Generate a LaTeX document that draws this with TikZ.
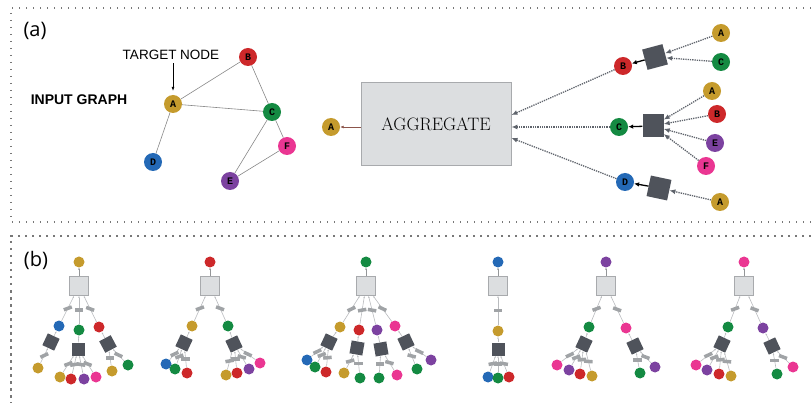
\documentclass[tikz,border=0pt]{standalone}
\usepackage{fontspec}
\usetikzlibrary{shapes, arrows.meta}
\newfontfamily\panelfont{Open Sans}
\newfontfamily\headfont{Liberation Sans}
\newfontfamily\letterfont{Liberation Mono}
\definecolor{nA}{RGB}{197,155,45}
\definecolor{nB}{RGB}{205,40,42}
\definecolor{nC}{RGB}{20,138,66}
\definecolor{nD}{RGB}{36,105,182}
\definecolor{nE}{RGB}{124,66,160}
\definecolor{nF}{RGB}{234,54,146}
\definecolor{aggfill}{RGB}{220,222,224}
\definecolor{aggdraw}{RGB}{168,170,173}
\definecolor{darkbox}{RGB}{79,83,91}
\definecolor{taggray}{RGB}{160,163,166}
\definecolor{edgegray}{RGB}{135,135,135}
\definecolor{dotgray}{RGB}{95,100,108}
\definecolor{treegray}{RGB}{185,187,190}
\definecolor{framegray}{RGB}{120,120,120}
\definecolor{outbrown}{RGB}{140,85,75}
\tikzstyle{gnode} = [circle, minimum size=18pt, inner sep=0pt, font=\letterfont\bfseries\fontsize{10}{10}\selectfont]
\tikzstyle{snode} = [circle, minimum size=11pt, inner sep=0pt]
\tikzstyle{aggbox} = [rectangle, draw=aggdraw, fill=aggfill, line width=0.9pt, minimum width=150pt, minimum height=83pt, font=\fontsize{18}{20}\selectfont]
\tikzstyle{sqbox} = [rectangle, fill=darkbox, minimum size=21pt, inner sep=0pt]
\tikzstyle{minagg} = [rectangle, draw=aggdraw, fill=aggfill, line width=0.7pt, minimum size=19pt, inner sep=0pt]
\tikzstyle{minsq} = [rectangle, fill=darkbox, minimum size=13pt, inner sep=0pt]
\tikzstyle{edgetag} = [rectangle, fill=taggray, minimum width=8.5pt, minimum height=3.5pt, inner sep=0pt]
\tikzstyle{gline} = [draw=edgegray, line width=0.6pt]
\tikzstyle{dline} = [draw=dotgray, densely dotted, line width=1.3pt, -{Latex[length=6pt, width=5pt]}]
\tikzstyle{bline} = [draw=black, line width=1.3pt, -{Latex[length=5pt, width=4.5pt]}]
\tikzstyle{oline} = [draw=outbrown, line width=0.8pt, -{Latex[length=3.5pt, width=3pt]}]
\tikzstyle{tarrow} = [draw=black, line width=0.6pt, -{Latex[length=4pt, width=3pt]}]
\tikzstyle{tline} = [draw=treegray, line width=0.6pt, -{Latex[length=2pt, width=1.6pt]}]
\tikzstyle{rline} = [draw=treegray!80!black, line width=1pt, -{Latex[length=2pt, width=2pt]}]
\tikzstyle{panelframe} = [draw=framegray, line width=1.2pt, dash pattern=on 1.2pt off 5.8pt]

\begin{document}
\begin{tikzpicture}[x=1pt, y=-1pt]
            \useasboundingbox (0,0) rectangle (811,403);
            % Frames
            \path [panelframe] (811,8) -- (11,8) -- (11,222) -- (811,222);
            \path [panelframe, dash pattern=on 2.5pt off 4.5pt] (811,236) -- (11,236) -- (11,403);

            % Draw nodes
            % Input graph
            \node (laba) [font=\panelfont\fontsize{20}{20}\selectfont] at (35,31) {(a)};
            \node (title) [font=\headfont\bfseries\fontsize{14}{14}\selectfont] at (79,100) {INPUT GRAPH};
            \node (tgt) [font=\headfont\fontsize{13.5}{13.5}\selectfont] at (171,55) {TARGET NODE};
            \node (a1) [gnode, fill=nA] at (173,104) {A};
            \node (b1) [gnode, fill=nB] at (248,57) {B};
            \node (c1) [gnode, fill=nC] at (272,112) {C};
            \node (d1) [gnode, fill=nD] at (153,162) {D};
            \node (e1) [gnode, fill=nE] at (230,181) {E};
            \node (f1) [gnode, fill=nF] at (287,146) {F};

            % Aggregation
            \node (agg) [aggbox] at (436,124) {AGGREGATE};
            \node (out) [gnode, fill=nA] at (331,127) {A};
            \node (nb) [gnode, fill=nB] at (623,66) {B};
            \node (nc) [gnode, fill=nC] at (619,127) {C};
            \node (nd) [gnode, fill=nD] at (625,182) {D};
            \node (s1) [sqbox, rotate=15] at (655,57) {};
            \node (s2) [sqbox, minimum height=23pt] at (653,126) {};
            \node (s3) [sqbox, rotate=-12] at (659,188) {};
            \node (i1) [gnode, fill=nA] at (721,33) {A};
            \node (i2) [gnode, fill=nC] at (721,62) {C};
            \node (i3) [gnode, fill=nA] at (712,91) {A};
            \node (i4) [gnode, fill=nB] at (717,114) {B};
            \node (i5) [gnode, fill=nE] at (715,143) {E};
            \node (i6) [gnode, fill=nF] at (706,166) {F};
            \node (i7) [gnode, fill=nA] at (720,202) {A};

            % Draw lines
            % Input graph
            \path [tarrow, shorten >=4pt] (tgt.south -| a1) -- (a1.north);
            \path [gline] (a1) -- (b1);
            \path [gline] (a1) -- (c1);
            \path [gline] (a1) -- (d1);
            \path [gline] (b1) -- (c1);
            \path [gline] (c1) -- (e1);
            \path [gline] (c1) -- (f1);
            \path [gline] (e1) -- (f1);

            % Aggregation
            \path [oline] (agg.west |- out) -- (out);
            \path [dline] (nb) -- ([yshift=9pt]agg.east);
            \path [dline] (nc) -- ([yshift=-3pt]agg.east);
            \path [dline] (nd) -- ([yshift=-14pt]agg.east);
            \path [bline] (s1) -- (nb);
            \path [bline] (s2) -- (nc);
            \path [bline] (s3) -- (nd);
            \path [dline] (i1) -- (s1);
            \path [dline] (i2) -- (s1);
            \path [dline] (i3) -- (s2);
            \path [dline] (i4) -- (s2);
            \path [dline] (i5) -- (s2);
            \path [dline] (i6) -- (s2);
            \path [dline] (i7) -- (s3);

            % Computation graphs
            \node (labb) [font=\panelfont\fontsize{20}{20}\selectfont] at (36,260) {(b)};

            % Tree A
            \node (t1r) [snode, fill=nA] at (79,262) {};
            \node (t1q) [minagg] at (79,286) {};
            \node (t1c1) [snode, fill=nD] at (59,326) {};
            \node (t1c2) [snode, fill=nC] at (79,330) {};
            \node (t1c3) [snode, fill=nB] at (99,327) {};
            \node (t1d1) [minsq, rotate=-25] at (51,342) {};
            \node (t1d2) [minsq] at (78,349) {};
            \node (t1d3) [minsq, rotate=28] at (108,344) {};
            \node (t1l1) [snode, fill=nA] at (38,368) {};
            \node (t1l2) [snode, fill=nA] at (60,377) {};
            \node (t1l3) [snode, fill=nB] at (71,379) {};
            \node (t1l4) [snode, fill=nE] at (84,379) {};
            \node (t1l5) [snode, fill=nF] at (96,377) {};
            \node (t1l6) [snode, fill=nA] at (112,371) {};
            \node (t1l7) [snode, fill=nC] at (128,365) {};
            \path [rline] (t1q) -- (t1r);
            \path [tline] (t1c1) -- node[edgetag, rotate=20] {} (t1q);
            \path [tline] (t1c2) -- node[edgetag] {} (t1q);
            \path [tline] (t1c3) -- node[edgetag, rotate=-20] {} (t1q);
            \path [tline] (t1d1) -- (t1c1);
            \path [tline] (t1d2) -- (t1c2);
            \path [tline] (t1d3) -- (t1c3);
            \path [tline] (t1l1) -- node[edgetag, rotate=25] {} (t1d1);
            \path [tline] (t1l2) -- node[edgetag, rotate=20] {} (t1d2);
            \path [tline] (t1l3) -- node[edgetag, rotate=10] {} (t1d2);
            \path [tline] (t1l4) -- node[edgetag, rotate=-10] {} (t1d2);
            \path [tline] (t1l5) -- node[edgetag, rotate=-20] {} (t1d2);
            \path [tline] (t1l6) -- node[edgetag] {} (t1d3);
            \path [tline] (t1l7) -- node[edgetag, rotate=-25] {} (t1d3);

            % Tree B
            \node (t2r) [snode, fill=nB] at (210,262) {};
            \node (t2q) [minagg] at (210,286) {};
            \node (t2c1) [snode, fill=nA] at (192,326) {};
            \node (t2c2) [snode, fill=nC] at (228,326) {};
            \node (t2d1) [minsq, rotate=-25] at (184,343) {};
            \node (t2d2) [minsq, rotate=25] at (234,344) {};
            \node (t2l1) [snode, fill=nD] at (166,364) {};
            \node (t2l2) [snode, fill=nC] at (175,369) {};
            \node (t2l3) [snode, fill=nB] at (187,373) {};
            \node (t2l4) [snode, fill=nA] at (226,375) {};
            \node (t2l5) [snode, fill=nB] at (237,373) {};
            \node (t2l6) [snode, fill=nE] at (249,369) {};
            \node (t2l7) [snode, fill=nF] at (260,363) {};
            \path [rline] (t2q) -- (t2r);
            \path [tline] (t2c1) -- node[edgetag, rotate=20] {} (t2q);
            \path [tline] (t2c2) -- node[edgetag, rotate=-20] {} (t2q);
            \path [tline] (t2d1) -- (t2c1);
            \path [tline] (t2d2) -- (t2c2);
            \path [tline] (t2l1) -- node[edgetag, rotate=25] {} (t2d1);
            \path [tline] (t2l2) -- node[edgetag, rotate=20] {} (t2d1);
            \path [tline] (t2l3) -- node[edgetag] {} (t2d1);
            \path [tline] (t2l4) -- node[edgetag, rotate=10] {} (t2d2);
            \path [tline] (t2l5) -- node[edgetag] {} (t2d2);
            \path [tline] (t2l6) -- node[edgetag, rotate=-15] {} (t2d2);
            \path [tline] (t2l7) -- node[edgetag, rotate=-25] {} (t2d2);

            % Tree C
            \node (t3r) [snode, fill=nC] at (366,262) {};
            \node (t3q) [minagg] at (366,286) {};
            \node (t3c1) [snode, fill=nA] at (340,327) {};
            \node (t3c2) [snode, fill=nB] at (359,330) {};
            \node (t3c3) [snode, fill=nE] at (377,330) {};
            \node (t3c4) [snode, fill=nF] at (395,326) {};
            \node (t3d1) [minsq, rotate=-25] at (329,342) {};
            \node (t3d2) [minsq, rotate=-10] at (357,348) {};
            \node (t3d3) [minsq, rotate=10] at (381,349) {};
            \node (t3d4) [minsq, rotate=25] at (406,342) {};
            \node (t3l1) [snode, fill=nD] at (307,360) {};
            \node (t3l2) [snode, fill=nC] at (315,367) {};
            \node (t3l3) [snode, fill=nB] at (326,372) {};
            \node (t3l4) [snode, fill=nA] at (344,373) {};
            \node (t3l5) [snode, fill=nC] at (360,378) {};
            \node (t3l6) [snode, fill=nC] at (379,378) {};
            \node (t3l7) [snode, fill=nF] at (397,375) {};
            \node (t3l8) [snode, fill=nC] at (417,369) {};
            \node (t3l9) [snode, fill=nE] at (431,360) {};
            \path [rline] (t3q) -- (t3r);
            \path [tline] (t3c1) -- node[edgetag, rotate=25] {} (t3q);
            \path [tline] (t3c2) -- node[edgetag, rotate=10] {} (t3q);
            \path [tline] (t3c3) -- node[edgetag, rotate=-10] {} (t3q);
            \path [tline] (t3c4) -- node[edgetag, rotate=-25] {} (t3q);
            \path [tline] (t3d1) -- (t3c1);
            \path [tline] (t3d2) -- (t3c2);
            \path [tline] (t3d3) -- (t3c3);
            \path [tline] (t3d4) -- (t3c4);
            \path [tline] (t3l1) -- node[edgetag, rotate=25] {} (t3d1);
            \path [tline] (t3l2) -- node[edgetag, rotate=20] {} (t3d1);
            \path [tline] (t3l3) -- node[edgetag, rotate=5] {} (t3d1);
            \path [tline] (t3l4) -- node[edgetag, rotate=15] {} (t3d2);
            \path [tline] (t3l5) -- node[edgetag] {} (t3d2);
            \path [tline] (t3l6) -- node[edgetag] {} (t3d3);
            \path [tline] (t3l7) -- node[edgetag, rotate=-15] {} (t3d3);
            \path [tline] (t3l8) -- node[edgetag, rotate=-15] {} (t3d4);
            \path [tline] (t3l9) -- node[edgetag, rotate=-25] {} (t3d4);

            % Tree D
            \node (t4r) [snode, fill=nD] at (498,262) {};
            \node (t4q) [minagg] at (498,286) {};
            \node (t4c1) [snode, fill=nA] at (498,331) {};
            \node (t4d1) [minsq] at (498,349) {};
            \node (t4l1) [snode, fill=nD] at (488,377) {};
            \node (t4l2) [snode, fill=nC] at (498,378) {};
            \node (t4l3) [snode, fill=nB] at (509,377) {};
            \path [rline] (t4q) -- (t4r);
            \path [tline] (t4c1) -- node[edgetag] {} (t4q);
            \path [tline] (t4d1) -- (t4c1);
            \path [tline] (t4l1) -- node[edgetag, rotate=10] {} (t4d1);
            \path [tline] (t4l2) -- node[edgetag] {} (t4d1);
            \path [tline] (t4l3) -- node[edgetag, rotate=-10] {} (t4d1);

            % Tree E
            \node (t5r) [snode, fill=nE] at (606,262) {};
            \node (t5q) [minagg] at (606,286) {};
            \node (t5c1) [snode, fill=nC] at (589,327) {};
            \node (t5c2) [snode, fill=nF] at (626,328) {};
            \node (t5d1) [minsq, rotate=-25] at (584,344) {};
            \node (t5d2) [minsq, rotate=25] at (635,346) {};
            \node (t5l1) [snode, fill=nF] at (557,365) {};
            \node (t5l2) [snode, fill=nE] at (569,370) {};
            \node (t5l3) [snode, fill=nB] at (580,374) {};
            \node (t5l4) [snode, fill=nA] at (592,376) {};
            \node (t5l5) [snode, fill=nC] at (640,373) {};
            \node (t5l6) [snode, fill=nE] at (655,367) {};
            \path [rline] (t5q) -- (t5r);
            \path [tline] (t5c1) -- node[edgetag, rotate=20] {} (t5q);
            \path [tline] (t5c2) -- node[edgetag, rotate=-20] {} (t5q);
            \path [tline] (t5d1) -- (t5c1);
            \path [tline] (t5d2) -- (t5c2);
            \path [tline] (t5l1) -- node[edgetag, rotate=25] {} (t5d1);
            \path [tline] (t5l2) -- node[edgetag, rotate=20] {} (t5d1);
            \path [tline] (t5l3) -- node[edgetag, rotate=5] {} (t5d1);
            \path [tline] (t5l4) -- node[edgetag, rotate=-5] {} (t5d1);
            \path [tline] (t5l5) -- node[edgetag] {} (t5d2);
            \path [tline] (t5l6) -- node[edgetag, rotate=-20] {} (t5d2);

            % Tree F
            \node (t6r) [snode, fill=nF] at (744,262) {};
            \node (t6q) [minagg] at (744,286) {};
            \node (t6c1) [snode, fill=nC] at (728,327) {};
            \node (t6c2) [snode, fill=nE] at (763,328) {};
            \node (t6d1) [minsq, rotate=-25] at (722,344) {};
            \node (t6d2) [minsq, rotate=25] at (772,346) {};
            \node (t6l1) [snode, fill=nF] at (696,365) {};
            \node (t6l2) [snode, fill=nE] at (707,370) {};
            \node (t6l3) [snode, fill=nB] at (719,374) {};
            \node (t6l4) [snode, fill=nA] at (731,376) {};
            \node (t6l5) [snode, fill=nC] at (777,374) {};
            \node (t6l6) [snode, fill=nF] at (793,367) {};
            \path [rline] (t6q) -- (t6r);
            \path [tline] (t6c1) -- node[edgetag, rotate=20] {} (t6q);
            \path [tline] (t6c2) -- node[edgetag, rotate=-20] {} (t6q);
            \path [tline] (t6d1) -- (t6c1);
            \path [tline] (t6d2) -- (t6c2);
            \path [tline] (t6l1) -- node[edgetag, rotate=25] {} (t6d1);
            \path [tline] (t6l2) -- node[edgetag, rotate=20] {} (t6d1);
            \path [tline] (t6l3) -- node[edgetag, rotate=5] {} (t6d1);
            \path [tline] (t6l4) -- node[edgetag, rotate=-5] {} (t6d1);
            \path [tline] (t6l5) -- node[edgetag] {} (t6d2);
            \path [tline] (t6l6) -- node[edgetag, rotate=-20] {} (t6d2);
        \end{tikzpicture}
\end{document}
